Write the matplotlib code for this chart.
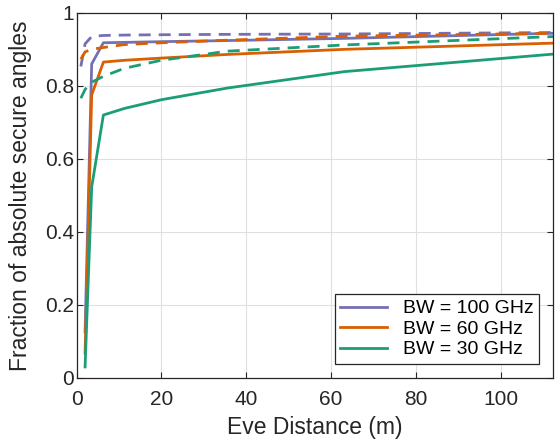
import matplotlib
matplotlib.use("Agg")
import matplotlib.pyplot as plt

plt.rcParams['font.family'] = ['Liberation Sans', 'DejaVu Sans']

# Eve distances (m) for the fixed-power curves and the dashed reference curves
dist_solid = [2, 3.56, 6.32, 11.25, 20, 35.6, 63.2, 112.5]
dist_dashed = [1, 2, 3.56, 6.32, 11.25, 20, 35.6, 63.2, 112.5]

# fraction of absolute secure angles per bandwidth
bw100_solid = [0.126, 0.860, 0.918, 0.919, 0.921, 0.924, 0.930, 0.944]
bw60_solid = [0.068, 0.775, 0.865, 0.870, 0.876, 0.886, 0.900, 0.917]
bw30_solid = [0.030, 0.523, 0.720, 0.738, 0.762, 0.794, 0.839, 0.887]

bw100_dashed = [0.853, 0.915, 0.935, 0.938, 0.939, 0.940, 0.941, 0.942, 0.946]
bw60_dashed = [0.873, 0.893, 0.900, 0.905, 0.913, 0.918, 0.925, 0.936, 0.944]
bw30_dashed = [0.766, 0.790, 0.810, 0.826, 0.848, 0.870, 0.895, 0.912, 0.935]

labels = ["BW = 100 GHz", "BW = 60 GHz", "BW = 30 GHz"]
colors = ["#7570b3", "#d95f02", "#1b9e77"]

fig = plt.figure(figsize=(5.55, 4.42), dpi=100)
ax = fig.add_axes([0.138, 0.145, 0.858, 0.826])

solid = [bw100_solid, bw60_solid, bw30_solid]
dashed = [bw100_dashed, bw60_dashed, bw30_dashed]
for ys, yd, c, lab in zip(solid, dashed, colors, labels):
    ax.plot(dist_solid, ys, color=c, lw=2.0, label=lab)
    ax.plot(dist_dashed, yd, color=c, lw=2.0, ls=(0, (4.3, 2.9)))

ax.set_xlim(0, 112.3)
ax.set_ylim(0, 1)
ax.set_xticks([0, 20, 40, 60, 80, 100])
ax.set_yticks([0, 0.2, 0.4, 0.6, 0.8, 1])
ax.set_yticklabels(["0", "0.2", "0.4", "0.6", "0.8", "1"])
ax.grid(True, color="#e0e0e0", lw=0.8)
ax.set_axisbelow(True)
ax.tick_params(direction="in", top=True, right=True, labelsize=15,
               colors="#262626", length=4)
ax.tick_params(axis="x", pad=9)
ax.tick_params(axis="y", pad=2)
for sp in ax.spines.values():
    sp.set_color("#262626")
    sp.set_linewidth(0.9)

ax.set_xlabel("Eve Distance (m)", fontsize=16.5, color="#262626", labelpad=5)
ax.set_ylabel("Fraction of absolute secure angles", fontsize=16.5, color="#262626", labelpad=9)

leg = ax.legend(loc="lower right", fontsize=14, fancybox=False, framealpha=1,
                edgecolor="#262626", handlelength=2.4, borderpad=0.3,
                labelspacing=0.15, borderaxespad=0.7)
leg.get_frame().set_linewidth(0.9)

fig.savefig("out.png", dpi=100)
